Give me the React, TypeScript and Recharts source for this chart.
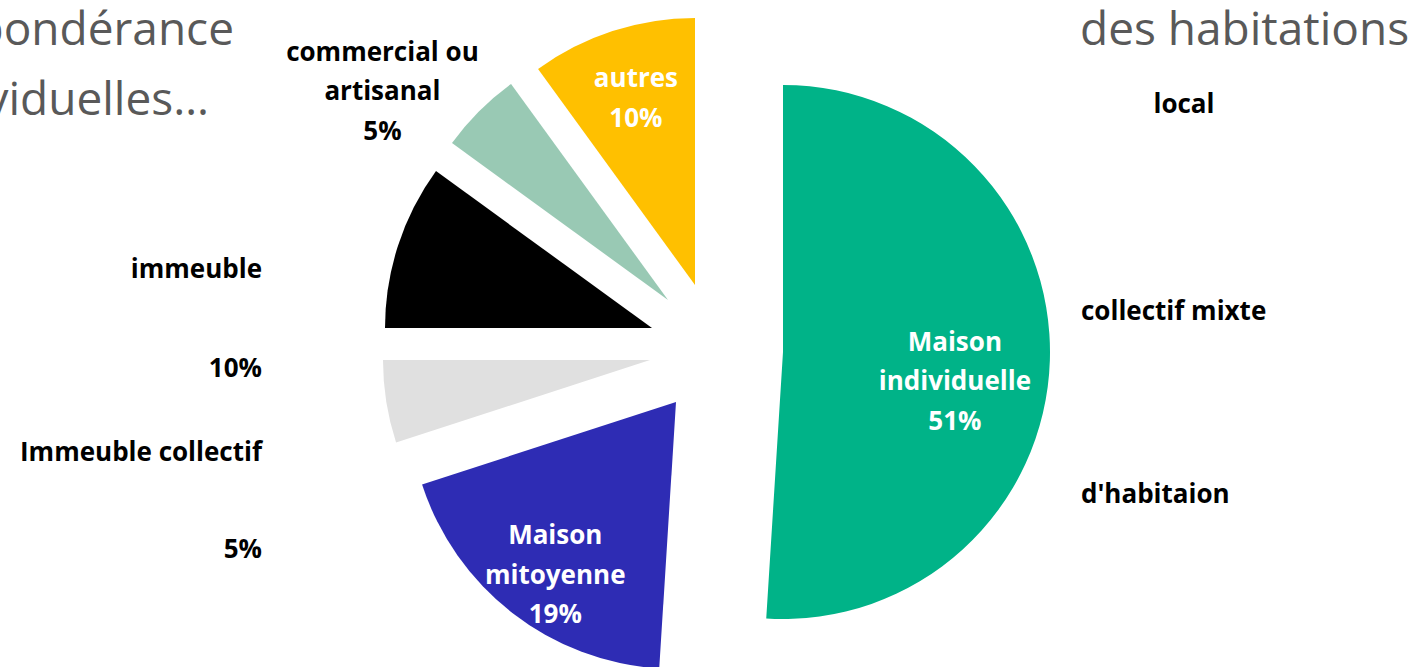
import React from 'react'
import { PieChart, Pie, Cell } from 'recharts'

// slices clockwise from 12 o'clock
const categories = [
  'Maison individuelle',
  'Maison mitoyenne',
  "Immeuble collectif d'habitaion",
  'immeuble collectif mixte',
  'local commercial ou artisanal',
  'autres',
]
const shares = [51, 19, 5, 10, 5, 10]
const sliceLabels: string[][] = [
  ['Maison', 'individuelle'],
  ['Maison', 'mitoyenne'],
  [],
  [],
  ['commercial ou', 'artisanal'],
  ['autres'],
]

const colors = ['#00B388', '#2E2CB4', '#E0E0E0', '#000000', '#99C9B4', '#FFC000']
// explode offset of each slice (px)
const explode = [
  [0, 0],
  [-107, 50],
  [-133, 8],
  [-131, -24],
  [-115, -52],
  [-88, -67],
]
const labelRadius = [0.644, 0.805, 0, 0, 1.2, 0.74]
const labelNudge = [
  [0, 23],
  [11, 2],
  [0, 0],
  [0, 0],
  [-59, 17],
  [2, 0],
]
const labelColor = ['#fff', '#fff', '#000', '#000', '#000', '#fff']

const data = categories.map((name, i) => ({ name, value: shares[i] }))

const LINE = 39.5
const font = '"Open Sans", sans-serif'

const renderLabel = (p: any) => {
  const i = p.index
  const lines = sliceLabels[i]
  if (!lines || !lines.length) return null
  const rad = Math.PI / 180
  const r = p.outerRadius * labelRadius[i]
  const x = p.cx + explode[i][0] + r * Math.cos(-p.midAngle * rad) + labelNudge[i][0]
  const y = p.cy + explode[i][1] + r * Math.sin(-p.midAngle * rad) + labelNudge[i][1]
  const all = [...lines, `${Math.round(p.percent * 100)}%`]
  const y0 = y - ((all.length - 1) * LINE) / 2
  return (
    <text
      x={x}
      y={y0}
      textAnchor="middle"
      dominantBaseline="central"
      fill={labelColor[i]}
      fontFamily={font}
      fontWeight={700}
      fontSize={26}
    >
      {all.map((l, j) => (
        <tspan key={j} x={x} y={y0 + j * LINE}>
          {l}
        </tspan>
      ))}
    </text>
  )
}

const pct = (i: number) => `${Math.round(shares[i])}%`

export default function App() {
  const side = { fontFamily: font, fontWeight: 700, fontSize: 26, fill: '#000' }
  const title = { fontFamily: font, fontSize: 46, fill: '#595959' }
  return (
    <div style={{ position: 'fixed', left: 0, top: 0, width: 1425, height: 667, background: '#fff' }}>
      <svg width={1425} height={667} style={{ position: 'absolute', left: 0, top: 0 }}>
        <text x={234} y={45} textAnchor="end" {...title}>Prépondérance</text>
        <text x={209} y={115} textAnchor="end" {...title}>individuelles…</text>
        <text x={1080} y={45} {...title}>des habitations</text>

        <text x={262} y={268} textAnchor="end" dominantBaseline="central" {...side}>immeuble</text>
        <text x={262} y={367} textAnchor="end" dominantBaseline="central" {...side}>{pct(3)}</text>
        <text x={262} y={451} textAnchor="end" dominantBaseline="central" {...side}>Immeuble collectif</text>
        <text x={262} y={548} textAnchor="end" dominantBaseline="central" {...side}>{pct(2)}</text>

        <text x={1184} y={103} textAnchor="middle" dominantBaseline="central" {...side}>local</text>
        <text x={1081} y={310} dominantBaseline="central" {...side}>collectif mixte</text>
        <text x={1081} y={493} dominantBaseline="central" {...side}>d'habitaion</text>
      </svg>
      <div style={{ position: 'absolute', left: 0, top: 0 }}>
        <PieChart width={1425} height={667} margin={{ top: 0, right: 0, bottom: 0, left: 0 }}>
          <Pie
            data={data}
            dataKey="value"
            nameKey="name"
            cx={783}
            cy={352}
            outerRadius={267}
            startAngle={90}
            endAngle={-270}
            stroke="none"
            label={renderLabel}
            labelLine={false}
            isAnimationActive={false}
          >
            {data.map((d, i) => (
              <Cell key={d.name} fill={colors[i]} transform={`translate(${explode[i][0]},${explode[i][1]})`} />
            ))}
          </Pie>
        </PieChart>
      </div>
    </div>
  )
}
